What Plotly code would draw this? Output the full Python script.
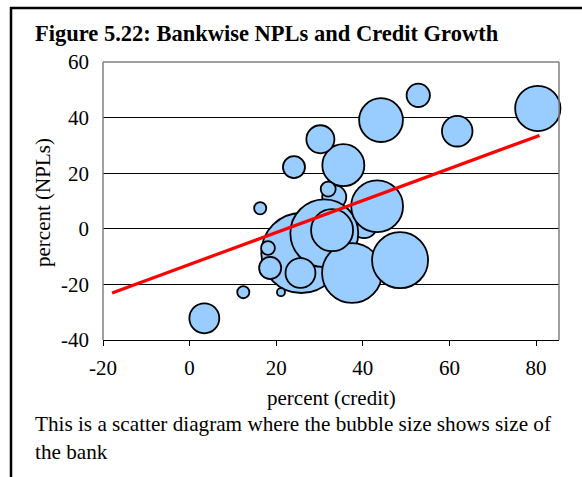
import plotly.graph_objects as go

# Bank-level credit growth (x), NPL growth (y) and bank size (bubble area);
# listed in drawing order, later banks are drawn on top
credit_growth = [33.4, 40.3, 25.8, 31.1, 37.5, 48.6, 43.3, 80.4, 44.2, 32.9,
                 35.5, 61.8, 3.4, 25.6, 30.2, 52.8, 24.1, 18.6, 32.0, 18.1,
                 16.3, 12.4, 21.1]
npl_growth = [11.4, 1.3, -8.7, -1.6, -15.9, -11.3, 8.1, 43.3, 39.1, -0.5,
              22.9, 35.1, -32.2, -15.9, 32.2, 48.0, 22.2, -14.1, 14.3, -6.9,
              7.4, -22.8, -22.8]
bank_size = [9, 10.6, 100, 72, 56, 49, 42, 32, 30, 27.6,
             27.6, 14.6, 14, 14, 12.3, 8.5, 7.6, 7.6, 3.5, 3,
             2.3, 2.3, 1]

# Fitted line through the bubbles
trend_credit = [-17.9, 80.8]
trend_npl = [-23.1, 33.6]

x_ticks = [-20, 0, 20, 40, 60, 80]
y_ticks = [-40, -20, 0, 20, 40, 60]

W, H = 582, 477
ML, MR, MT, MB = 103, 23, 62, 137
PW, PH = W - ML - MR, H - MT - MB

FONT = "Liberation Serif"
MAX_BUBBLE_PX = 80


def fx(px):
    return (px - ML) / PW


def fy(py):
    return (MT + PH - py) / PH


fig = go.Figure()

fig.add_trace(go.Scatter(
    x=credit_growth, y=npl_growth, mode="markers",
    marker=dict(size=bank_size, sizemode="area",
                sizeref=2.0 * max(bank_size) / MAX_BUBBLE_PX ** 2,
                color="#99CCFF", opacity=1,
                line=dict(color="#000000", width=1.8)),
    cliponaxis=False, showlegend=False, hoverinfo="x+y",
))

fig.add_trace(go.Scatter(
    x=trend_credit, y=trend_npl, mode="lines",
    line=dict(color="#FF0000", width=3.2),
    showlegend=False, hoverinfo="skip",
))

tick_font = dict(family=FONT, size=21, color="#000000")

fig.update_xaxes(
    range=[-20, 85.3], tickvals=x_ticks, ticktext=[str(v) for v in x_ticks],
    ticks="outside", ticklen=5, tickcolor="#000000", tickwidth=1,
    showline=True, linecolor="#000000", linewidth=1,
    showgrid=False, zeroline=False, tickfont=tick_font,
    ticklabelstandoff=4,
)
fig.update_yaxes(
    range=[-40, 60], tickvals=y_ticks, ticktext=[str(v) for v in y_ticks],
    ticks="", showline=False, showgrid=True, gridcolor="#000000", gridwidth=1,
    zeroline=False, tickfont=tick_font, ticklabelstandoff=13,
)

border = dict(color="#808080", width=1.5)
shapes = [
    # plot-area border (left, top, right)
    dict(type="line", xref="paper", yref="paper", x0=0, x1=0, y0=0, y1=1,
         line=border, layer="above"),
    dict(type="line", xref="paper", yref="paper", x0=0, x1=1, y0=1, y1=1,
         line=border, layer="above"),
    dict(type="line", xref="paper", yref="paper", x0=1, x1=1, y0=0, y1=1,
         line=border, layer="above"),
    # outer frame of the figure box
    dict(type="line", xref="paper", yref="paper", x0=fx(11), x1=fx(11),
         y0=fy(7), y1=fy(H + 5), line=dict(color="#000000", width=2.5)),
    dict(type="line", xref="paper", yref="paper", x0=fx(10), x1=fx(W + 5),
         y0=fy(8), y1=fy(8), line=dict(color="#000000", width=2.5)),
]

annotations = [
    dict(text="<b>Figure 5.22: Bankwise NPLs and Credit Growth</b>",
         x=fx(33), y=fy(34), xref="paper", yref="paper",
         xanchor="left", yanchor="middle", showarrow=False,
         font=dict(family=FONT, size=22.5, color="#000000")),
    dict(text="percent (credit)", x=fx(331), y=fy(398), xref="paper",
         yref="paper", xanchor="center", yanchor="middle", showarrow=False,
         font=dict(family=FONT, size=21, color="#000000")),
    dict(text="percent (NPLs)", x=fx(43), y=fy(203), xref="paper",
         yref="paper", xanchor="center", yanchor="middle", textangle=-90,
         showarrow=False, font=dict(family=FONT, size=21, color="#000000")),
    dict(text="This is a scatter diagram where the bubble size shows size of"
              "<br>the bank",
         x=fx(33), y=fy(438), xref="paper", yref="paper", xanchor="left",
         yanchor="middle", align="left", showarrow=False,
         font=dict(family=FONT, size=21.2, color="#000000")),
]

fig.update_layout(
    width=W, height=H, autosize=False,
    margin=dict(l=ML, r=MR, t=MT, b=MB, pad=0),
    paper_bgcolor="#FFFFFF", plot_bgcolor="#FFFFFF",
    shapes=shapes, annotations=annotations, showlegend=False,
)

fig.write_html("out.html")
